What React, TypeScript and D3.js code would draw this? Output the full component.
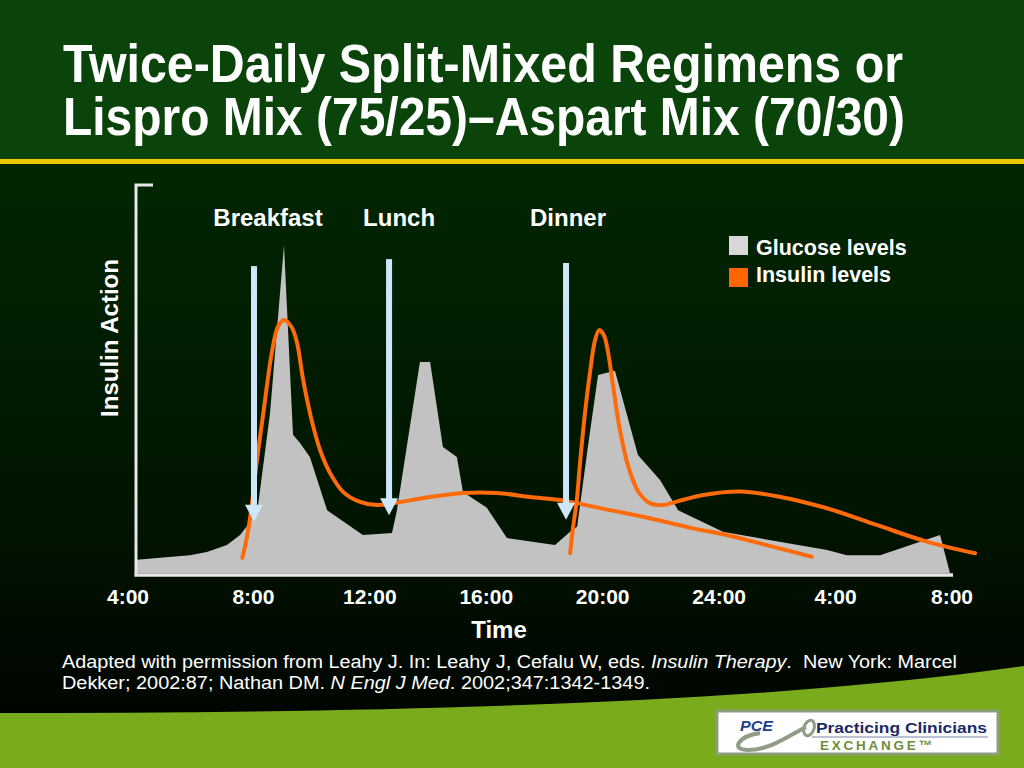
import React from 'react';
import * as d3 from 'd3';

// ---------- data ----------
const tickHours = [4, 8, 12, 16, 20, 24, 28, 32];
const tickLabels = ['4:00', '8:00', '12:00', '16:00', '20:00', '24:00', '4:00', '8:00'];

const glucoseHours = [4.0, 4.79, 5.82, 6.4, 7.09, 7.54, 7.81, 8.16, 8.57, 9.05, 9.36, 9.6, 9.94, 10.53, 11.76, 12.76, 12.93, 13.72, 14.07, 14.51, 14.99, 15.2, 16.02, 16.71, 18.36, 18.95, 19.12, 19.49, 19.84, 20.42, 21.21, 21.97, 22.59, 24.13, 27.71, 28.39, 29.53, 31.59, 31.93];
const glucoseValues = [3.4, 3.9, 4.6, 5.4, 7.2, 9.8, 12.4, 17.5, 41.2, 84.5, 35.6, 33.5, 29.9, 16.2, 9.8, 10.3, 16.2, 54.4, 54.4, 32.5, 29.9, 20.9, 16.8, 9.0, 7.2, 11.1, 11.9, 32.5, 51.0, 52.1, 30.4, 24.0, 16.2, 10.6, 5.9, 4.6, 4.6, 9.8, 0];

const insulinMorningHours = [7.62, 7.77, 7.91, 8.11, 8.34, 8.63, 8.84, 9.05, 9.31, 9.5, 9.71, 10.0, 10.29, 10.63, 11.08, 11.66, 12.24, 12.8, 14.07, 15.2, 16.37, 17.5, 18.53, 19.11, 20.25, 21.39, 23.11, 24.26, 25.63, 27.18];
const insulinMorningValues = [3.9, 9.0, 15.5, 28.4, 41.2, 56.7, 63.4, 65.2, 63.4, 59.3, 49.7, 39.4, 31.7, 25.8, 20.9, 18.3, 17.5, 18.0, 19.6, 20.6, 20.6, 19.6, 18.8, 18.0, 16.2, 14.5, 11.5, 9.8, 7.2, 4.2];

const insulinEveningHours = [18.88, 18.97, 19.11, 19.22, 19.39, 19.56, 19.74, 19.88, 20.04, 20.19, 20.36, 20.59, 20.88, 21.22, 21.62, 22.08, 22.54, 23.46, 24.72, 25.98, 27.7, 29.41, 31.13, 32.79];
const insulinEveningValues = [5.1, 11.1, 18.8, 28.3, 41.2, 51.5, 60.1, 62.6, 61.3, 56.6, 48.0, 36.9, 27.4, 21.0, 18.0, 17.5, 18.4, 20.1, 21.0, 19.8, 16.7, 12.4, 8.1, 5.1];

const mealNames = ['Breakfast', 'Lunch', 'Dinner'];
const mealHours = [8.02, 12.66, 18.74];
const mealArrowTop = [79.1, 80.9, 79.9];
const mealArrowTip = [13.2, 14.9, 13.7];

const legendLabels = ['Glucose levels', 'Insulin levels'];

// ---------- style ----------
const FONT = "'Liberation Sans', Arial, Helvetica, sans-serif";
const GLUCOSE_FILL = '#c2c2c2';
const INSULIN = '#ff6a0a';
const ARROW = '#cde7f8';
const legendColors = ['#d8d8d8', '#ff6600'];
const mealLabelDx = [14, 10, 2];

export default function App() {
  const x = d3.scaleLinear().domain([4, 32]).range([137, 952]);
  const y = d3.scaleLinear().domain([0, 100]).range([573, 185]);

  const glucose = glucoseHours.map((h, i) => [h, glucoseValues[i]] as [number, number]);
  const insA = insulinMorningHours.map((h, i) => [h, insulinMorningValues[i]] as [number, number]);
  const insB = insulinEveningHours.map((h, i) => [h, insulinEveningValues[i]] as [number, number]);

  const area = d3.area<[number, number]>()
    .x(d => x(d[0]))
    .y0(y(0))
    .y1(d => y(d[1]))
    .curve(d3.curveLinear);
  const line = d3.line<[number, number]>()
    .x(d => x(d[0]))
    .y(d => y(d[1]))
    .curve(d3.curveCatmullRom.alpha(0.5));

  return (
    <svg width={1024} height={768} viewBox="0 0 1024 768"
      style={{ position: 'absolute', left: 0, top: 0, display: 'block' }}
      fontFamily={FONT}>
      <defs>
        <linearGradient id="bg" x1="0" y1="0" x2="0" y2="1">
          <stop offset="0" stopColor="#022602" />
          <stop offset="0.6" stopColor="#011401" />
          <stop offset="1" stopColor="#000000" />
        </linearGradient>
      </defs>
      {/* background */}
      <rect x={0} y={0} width={1024} height={160} fill="#0a440a" />
      <rect x={0} y={164} width={1024} height={604} fill="url(#bg)" />
      <rect x={0} y={159} width={1024} height={5} fill="#f0c808" />
      <path d="M0,713 C380,713 760,704 1024,666 L1024,768 L0,768 Z" fill="#79ab1c" />

      {/* title */}
      <text x={63} y={81.5} fontSize={54} fontWeight="bold" fill="#ffffff"
        textLength={840} lengthAdjust="spacingAndGlyphs">Twice-Daily Split-Mixed Regimens or</text>
      <text x={63} y={135} fontSize={54} fontWeight="bold" fill="#ffffff"
        textLength={842} lengthAdjust="spacingAndGlyphs">Lispro Mix (75/25)–Aspart Mix (70/30)</text>

      {/* glucose area */}
      <path d={area(glucose) || ''} fill={GLUCOSE_FILL} />

      {/* insulin curves */}
      <path d={line(insA) || ''} fill="none" stroke={INSULIN} strokeWidth={4} strokeLinecap="round" />
      <path d={line(insB) || ''} fill="none" stroke={INSULIN} strokeWidth={4} strokeLinecap="round" />

      {/* meal arrows */}
      {mealHours.map((h, i) => {
        const cx = x(h);
        const top = y(mealArrowTop[i]);
        const tip = y(mealArrowTip[i]);
        const headH = 17;
        return (
          <g key={mealNames[i]}>
            <rect x={cx - 3} y={top} width={6} height={tip - headH - top + 1} fill={ARROW} />
            <path d={`M${cx - 9},${tip - headH} L${cx + 9},${tip - headH} L${cx},${tip} Z`} fill={ARROW} />
            <text x={cx + mealLabelDx[i]} y={226} fontSize={24} fontWeight="bold" fill="#ffffff"
              textAnchor="middle">{mealNames[i]}</text>
          </g>
        );
      })}

      {/* axes */}
      <path d={`M153,${y(100)} L${x(4) - 1},${y(100)} L${x(4) - 1},${y(0) + 2}`} fill="none" stroke="#e8e8e8" strokeWidth={3} />
      <line x1={x(4) - 2.5} x2={x(32) + 1} y1={y(0) + 2} y2={y(0) + 2} stroke="#e8e8e8" strokeWidth={3.5} />

      {tickHours.map((h, i) => (
        <text key={i} x={x(h) - (i === 0 ? 9 : 0)} y={604} fontSize={21} fontWeight="bold" fill="#ffffff"
          textAnchor="middle">{tickLabels[i]}</text>
      ))}
      <text x={499} y={638} fontSize={24} fontWeight="bold" fill="#ffffff" textAnchor="middle">Time</text>
      <text transform="translate(118,338) rotate(-90)" fontSize={24} fontWeight="bold" fill="#ffffff"
        textAnchor="middle">Insulin Action</text>

      {/* legend */}
      {legendLabels.map((l, i) => (
        <g key={l}>
          <rect x={729} y={236 + i * 32} width={19} height={19} fill={legendColors[i]} />
          <text x={756} y={255 + i * 27} fontSize={21.5} fontWeight="bold" fill="#ffffff">{l}</text>
        </g>
      ))}

      {/* citation */}
      <text x={62} y={668} fontSize={18} fill="#ffffff" textLength={895} lengthAdjust="spacingAndGlyphs"
        style={{ whiteSpace: 'pre' }}>
        Adapted with permission from Leahy J. In: Leahy J, Cefalu W, eds. <tspan fontStyle="italic">Insulin Therapy</tspan>.  New York: Marcel
      </text>
      <text x={62} y={689} fontSize={18} fill="#ffffff" textLength={588} lengthAdjust="spacingAndGlyphs"
        style={{ whiteSpace: 'pre' }}>
        Dekker; 2002:87; Nathan DM. <tspan fontStyle="italic">N Engl J Med</tspan>. 2002;347:1342-1349.
      </text>

      {/* logo */}
      <g>
        <rect x={717} y={711} width={281} height={43} fill="#ffffff" stroke="#8c9e7a" strokeWidth={3} />
        <path d="M760,733 C738,736 730,750 748,750 C770,750 790,735 806,727" fill="none" stroke="#8f9c86" strokeWidth={4} />
        <ellipse cx={809} cy={728} rx={5} ry={8} fill="none" stroke="#8f9c86" strokeWidth={3} transform="rotate(20 809 728)" />
        <text x={740} y={731} fontSize={15} fontWeight="bold" fontStyle="italic" fill="#233f8c"
          textLength={33} lengthAdjust="spacingAndGlyphs">PCE</text>
        <text x={816} y={733} fontSize={15} fontWeight="bold" fill="#1b2a66"
          textLength={171} lengthAdjust="spacingAndGlyphs">Practicing Clinicians</text>
        <line x1={812} x2={988} y1={737} y2={737} stroke="#7784a8" strokeWidth={1} />
        <text x={820} y={749.5} fontSize={13.5} fontWeight="bold" fill="#6d8d3a"
          textLength={112} lengthAdjust="spacing">EXCHANGE™</text>
      </g>
    </svg>
  );
}
